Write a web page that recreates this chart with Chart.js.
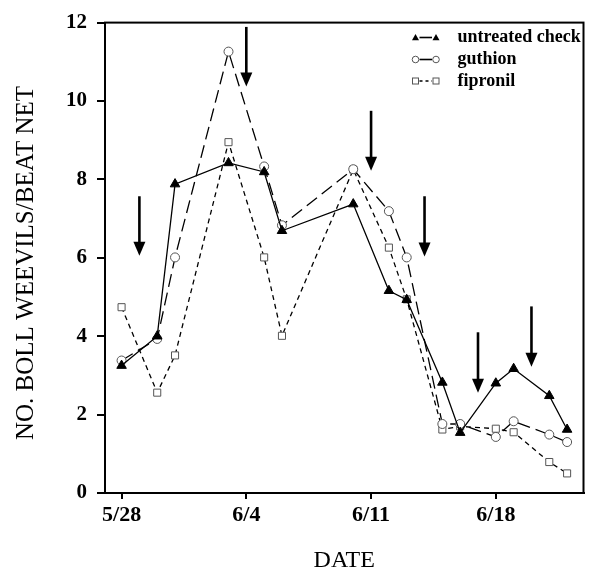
<!DOCTYPE html>
<html>
<head>
<meta charset="utf-8">
<script src="https://cdn.jsdelivr.net/npm/chart.js@4.4.1/dist/chart.umd.min.js"></script>
<style>
  html, body { margin: 0; padding: 0; background: #fff; }
  #wrap { width: 590px; height: 575px; }
</style>
</head>
<body>
<div id="wrap"><canvas id="c" width="590" height="575"></canvas></div>
<script>
// ---- data (x = days after 5/28) ----
const untreatedDays = [0, 2, 3, 6, 8, 9, 13, 15, 16, 18, 19, 21, 22, 24, 25];
const untreatedVals = [3.25, 4.0, 7.88, 8.42, 8.19, 6.69, 7.37, 5.16, 4.93, 2.82, 1.54, 2.80, 3.17, 2.48, 1.62];

const guthionDays = [0, 2, 3, 6, 8, 9, 13, 15, 16, 18, 19, 21, 22, 24, 25];
const guthionVals = [3.38, 3.93, 6.01, 11.26, 8.33, 6.83, 8.26, 7.19, 6.01, 1.76, 1.76, 1.43, 1.83, 1.49, 1.30];

const fipronilDays = [0, 2, 3, 6, 8, 9, 13, 15, 16, 18, 19, 21, 22, 24, 25];
const fipronilVals = [4.74, 2.56, 3.51, 8.95, 6.01, 4.01, 8.25, 6.26, 4.94, 1.62, 1.70, 1.64, 1.55, 0.79, 0.50];

const seriesLabels = ['untreated check', 'guthion', 'fipronil'];

const xTickDays = [0, 7, 14, 21];
const xTickLabels = ['5/28', '6/4', '6/11', '6/18'];

const yTicks = [0, 2, 4, 6, 8, 10, 12];

const xTitle = 'DATE';
const yTitle = 'NO. BOLL WEEVILS/BEAT NET';

// arrows (application dates): day, top value, tip value
const arrowDays = [1, 7, 14, 17, 20, 23];
const arrowTop  = [7.57, 11.89, 9.75, 7.57, 4.10, 4.76];
const arrowTip  = [6.05, 10.37, 8.22, 6.03, 2.56, 3.22];

const FONT = "'Liberation Serif', 'Times New Roman', serif";

function pts(days, vals) { return days.map((d, i) => ({ x: d, y: vals[i] })); }

const datasets = [
  {
    label: seriesLabels[0], data: pts(untreatedDays, untreatedVals),
    borderColor: '#000', borderWidth: 1.3, tension: 0,
    pointStyle: 'triangle', pointRadius: 5.5, pointBackgroundColor: '#000',
    pointBorderColor: '#000', pointBorderWidth: 1, _legendStyle: 'tri'
  },
  {
    label: seriesLabels[1], data: pts(guthionDays, guthionVals),
    borderColor: '#000', borderWidth: 1.3, borderDash: [13, 6], tension: 0,
    pointStyle: 'circle', pointRadius: 4.5, pointBackgroundColor: '#fff',
    pointBorderColor: '#555', pointBorderWidth: 1, _legendStyle: 'circ'
  },
  {
    label: seriesLabels[2], data: pts(fipronilDays, fipronilVals),
    borderColor: '#000', borderWidth: 1.3, borderDash: [5, 4], tension: 0,
    pointStyle: 'rect', pointRadius: 5, pointBackgroundColor: '#fff',
    pointBorderColor: '#555', pointBorderWidth: 1, _legendStyle: 'sq'
  }
];

const framePlugin = {
  id: 'frame',
  afterDraw(chart) {
    const { ctx, chartArea: a } = chart;
    ctx.save();
    ctx.strokeStyle = '#000';
    ctx.lineWidth = 2;
    ctx.strokeRect(a.left, a.top, a.right - a.left, a.bottom - a.top);
    // rotated y-axis title
    ctx.fillStyle = '#000';
    ctx.font = "25px " + FONT;
    ctx.textAlign = 'center';
    ctx.textBaseline = 'middle';
    ctx.translate(26, 263);
    ctx.rotate(-Math.PI / 2);
    ctx.fillText(yTitle, 0, 0);
    ctx.restore();
  }
};

const arrowPlugin = {
  id: 'arrows',
  afterDatasetsDraw(chart) {
    const { ctx, scales: { x, y } } = chart;
    ctx.save();
    ctx.fillStyle = '#000';
    ctx.strokeStyle = '#000';
    arrowDays.forEach((d, i) => {
      const px = x.getPixelForValue(d);
      const y0 = y.getPixelForValue(arrowTop[i]);
      const y1 = y.getPixelForValue(arrowTip[i]);
      const headLen = 14, headHalf = 6;
      ctx.lineWidth = 2.6;
      ctx.beginPath();
      ctx.moveTo(px, y0);
      ctx.lineTo(px, y1 - headLen + 1);
      ctx.stroke();
      ctx.beginPath();
      ctx.moveTo(px - headHalf, y1 - headLen);
      ctx.lineTo(px + headHalf, y1 - headLen);
      ctx.lineTo(px, y1);
      ctx.closePath();
      ctx.fill();
    });
    ctx.restore();
  }
};

function drawMarker(ctx, kind, x, y) {
  ctx.save();
  ctx.lineWidth = 1;
  if (kind === 'tri') {
    ctx.fillStyle = '#000';
    ctx.beginPath();
    ctx.moveTo(x, y - 3.5);
    ctx.lineTo(x + 3.5, y + 2.8);
    ctx.lineTo(x - 3.5, y + 2.8);
    ctx.closePath();
    ctx.fill();
  } else if (kind === 'circ') {
    ctx.fillStyle = '#fff';
    ctx.strokeStyle = '#555';
    ctx.beginPath();
    ctx.arc(x, y, 3.3, 0, Math.PI * 2);
    ctx.fill();
    ctx.stroke();
  } else {
    ctx.fillStyle = '#fff';
    ctx.strokeStyle = '#555';
    ctx.fillRect(x - 3, y - 3, 6, 6);
    ctx.strokeRect(x - 3, y - 3, 6, 6);
  }
  ctx.restore();
}

const legendPlugin = {
  id: 'customLegend',
  afterDraw(chart) {
    const { ctx } = chart;
    const rowY = [37.5, 59.5, 81];
    const mx1 = 415.5, mx2 = 436, tx = 457.5;
    ctx.save();
    chart.data.datasets.forEach((ds, i) => {
      const yy = rowY[i];
      ctx.strokeStyle = '#000';
      ctx.lineWidth = 1.6;
      ctx.setLineDash(ds._legendStyle === 'sq' ? [3, 3] : []);
      ctx.beginPath();
      ctx.moveTo(mx1 + 4, yy);
      ctx.lineTo(mx2 - 4, yy);
      ctx.stroke();
      ctx.setLineDash([]);
      drawMarker(ctx, ds._legendStyle, mx1, yy);
      drawMarker(ctx, ds._legendStyle, mx2, yy);
      ctx.fillStyle = '#000';
      ctx.font = "bold 18px " + FONT;
      ctx.textAlign = 'left';
      ctx.textBaseline = 'middle';
      ctx.fillText(ds.label, tx, yy);
    });
    ctx.restore();
  }
};

new Chart(document.getElementById('c'), {
  type: 'line',
  data: { datasets },
  plugins: [framePlugin, arrowPlugin, legendPlugin],
  options: {
    responsive: false,
    devicePixelRatio: 1,
    animation: false,
    layout: { padding: { left: 0, right: 2, top: 19, bottom: 0 } },
    plugins: { legend: { display: false }, tooltip: { enabled: false } },
    scales: {
      x: {
        type: 'linear',
        min: -0.93, max: 25.92,
        afterBuildTicks(scale) { scale.ticks = xTickDays.map(v => ({ value: v })); },
        afterFit(scale) { scale.height = 82; },
        ticks: {
          color: '#000', padding: 3, maxRotation: 0, autoSkip: false,
          font: { family: FONT, size: 22, weight: 'bold' },
          callback(v) { const i = xTickDays.indexOf(v); return i >= 0 ? xTickLabels[i] : ''; }
        },
        grid: { display: true, drawOnChartArea: false, drawTicks: true, tickLength: 6, color: '#000', lineWidth: 2 },
        border: { display: true, color: '#000', width: 2 },
        title: {
          display: true, text: xTitle, color: '#000',
          font: { family: FONT, size: 24, weight: 'normal' },
          padding: { top: 0, bottom: 0 }
        }
      },
      y: {
        type: 'linear',
        min: 0, max: 12,
        afterBuildTicks(scale) { scale.ticks = yTicks.map(v => ({ value: v })); },
        afterFit(scale) { scale.width = 105; },
        ticks: {
          color: '#000', padding: 10,
          font: { family: FONT, size: 21, weight: 'bold' }
        },
        grid: { display: true, drawOnChartArea: false, drawTicks: true, tickLength: 8, color: '#000', lineWidth: 2 },
        border: { display: true, color: '#000', width: 2 },
        title: { display: false }
      }
    }
  }
});
</script>
</body>
</html>
